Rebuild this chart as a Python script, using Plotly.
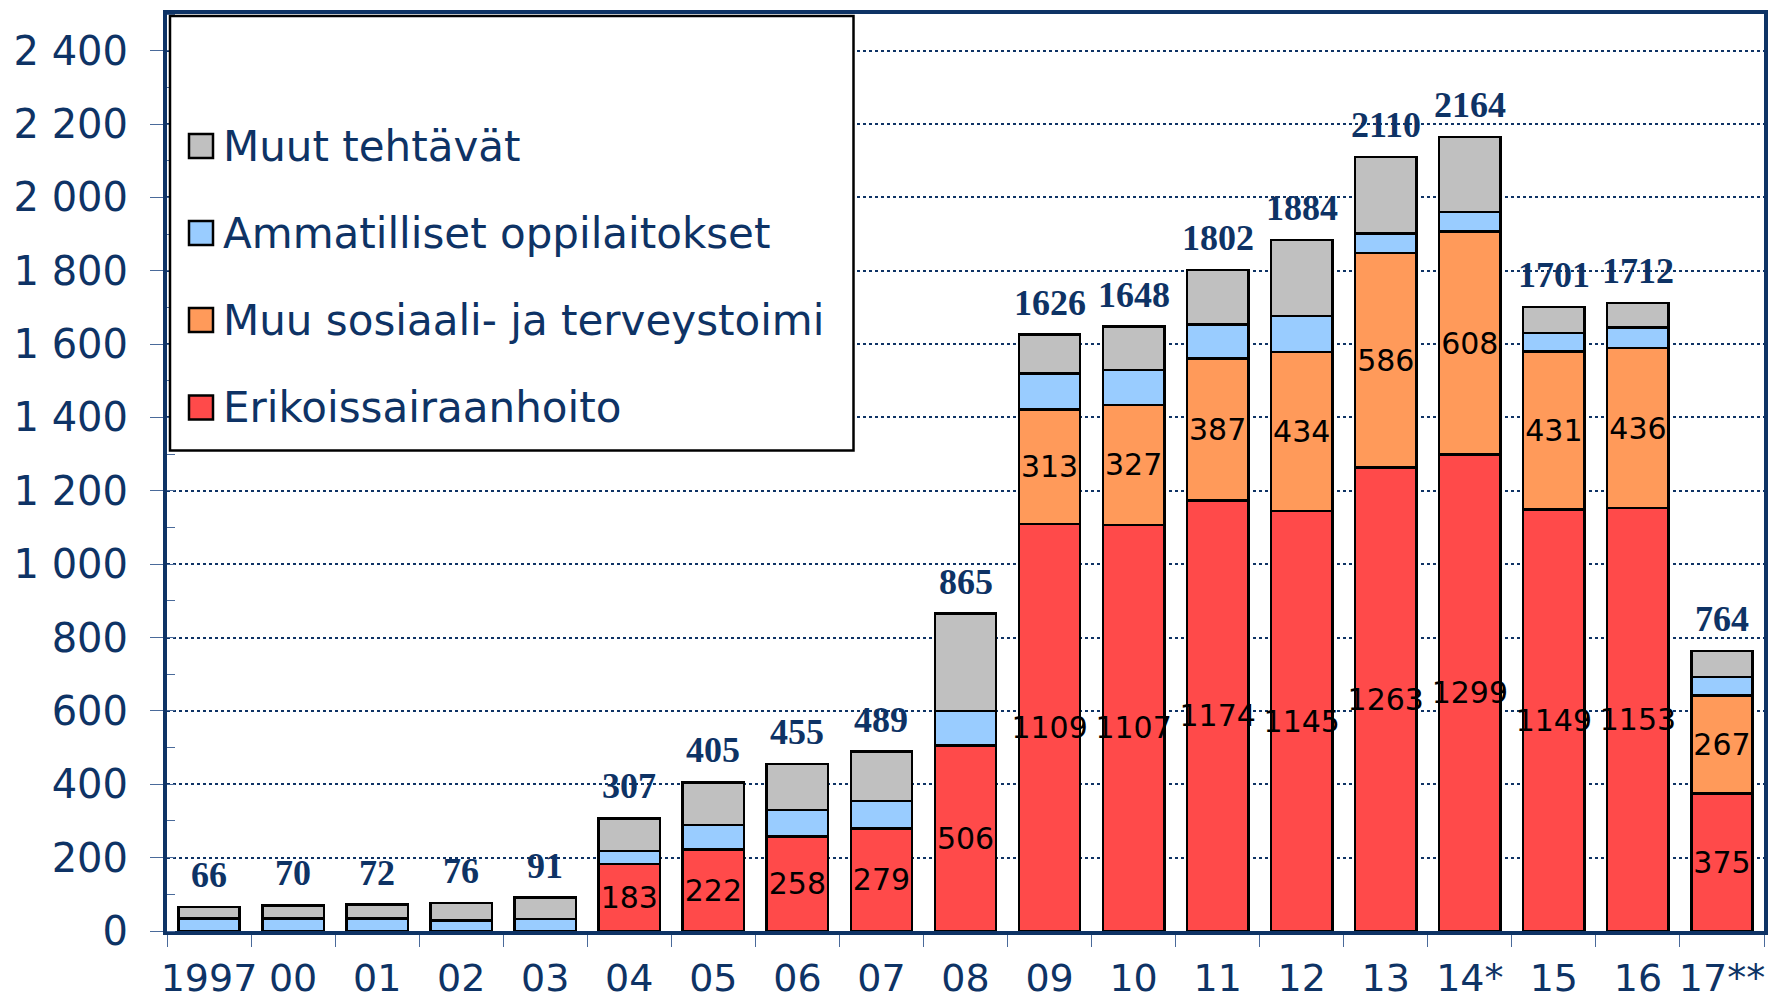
import plotly.graph_objects as go

categories = ["1997", "00", "01", "02", "03", "04", "05", "06", "07", "08",
              "09", "10", "11", "12", "13", "14*", "15", "16", "17**"]
erikoissairaanhoito = [0, 0, 0, 0, 0, 183, 222, 258, 279, 506,
                       1109, 1107, 1174, 1145, 1263, 1299, 1149, 1153, 375]
muu_sosiaali = [0, 0, 0, 0, 0, 0, 0, 0, 0, 0,
                313, 327, 387, 434, 586, 608, 431, 436, 267]
ammatilliset = [34, 34, 34, 28, 33, 35, 67, 72, 76, 94,
                98, 95, 93, 97, 52, 53, 51, 56, 50]
muut = [32, 36, 38, 48, 58, 89, 116, 125, 134, 265,
        106, 119, 148, 208, 209, 204, 70, 67, 72]
totals = [66, 70, 72, 76, 91, 307, 405, 455, 489, 865,
          1626, 1648, 1802, 1884, 2110, 2164, 1701, 1712, 764]
y_tickvals = [0, 200, 400, 600, 800, 1000, 1200, 1400, 1600, 1800, 2000, 2200, 2400]
y_ticktext = ["0", "200", "400", "600", "800", "1 000", "1 200", "1 400",
              "1 600", "1 800", "2 000", "2 200", "2 400"]
series_names = ["Erikoissairaanhoito", "Muu sosiaali- ja terveystoimi",
                "Ammatilliset oppilaitokset", "Muut tehtävät"]
series_colors = ["#FF4A4A", "#FF9A5A", "#99CCFF", "#C0C0C0"]

NAVY = "#0E3365"
W, H = 1775, 1000
ML, MR, MT, MB = 167, 11, 14, 69
PW, PH = W - ML - MR, H - MT - MB

def nz(vals):
    return [v if v else None for v in vals]

def labels(vals):
    return [str(v) if v else "" for v in vals]

fig = go.Figure()
series_vals = [erikoissairaanhoito, muu_sosiaali, ammatilliset, muut]
for i, (name, vals, col) in enumerate(zip(series_names, series_vals, series_colors)):
    show_text = i < 2
    fig.add_trace(go.Bar(
        x=categories, y=nz(vals), name=name,
        marker=dict(color=col, line=dict(color="black", width=2.5)),
        text=labels(vals) if show_text else None,
        textposition="inside" if show_text else "none",
        insidetextanchor="middle",
        textangle=0,
        constraintext="none",
        textfont=dict(family="DejaVu Sans", size=30, color="black"),
        showlegend=False,
        hoverinfo="x+y+name",
    ))

annotations = []
for idx, t in enumerate(totals):
    annotations.append(dict(
        x=idx, y=t, xref="x", yref="y", text="<b>%d</b>" % t, showarrow=False,
        yanchor="bottom", yshift=10,
        font=dict(family="Liberation Serif", size=36, color=NAVY),
    ))

def px_x(p):
    return (p - ML) / PW

def px_y(p):
    return (MT + PH - p) / PH

shapes = [dict(type="rect", xref="paper", yref="paper",
               x0=px_x(170), x1=px_x(853.5), y0=px_y(450.5), y1=px_y(16),
               fillcolor="white", line=dict(color="black", width=2.5),
               layer="above")]
legend_rows = [146, 233, 320, 407.5]
legend_order = [3, 2, 1, 0]
for row_y, idx in zip(legend_rows, legend_order):
    shapes.append(dict(type="rect", xref="paper", yref="paper",
                       x0=px_x(189), x1=px_x(213), y0=px_y(row_y + 12), y1=px_y(row_y - 12),
                       fillcolor=series_colors[idx], line=dict(color="black", width=2.5),
                       layer="above"))
    annotations.append(dict(
        x=px_x(221), y=px_y(row_y), xref="paper", yref="paper",
        text=series_names[idx], showarrow=False, xanchor="left", yanchor="middle",
        font=dict(family="DejaVu Sans", size=42, color=NAVY),
    ))

fig.update_layout(
    width=W, height=H,
    margin=dict(l=ML, r=MR, t=MT, b=MB, autoexpand=False),
    barmode="stack", bargap=0.27,
    plot_bgcolor="white", paper_bgcolor="white",
    font=dict(family="DejaVu Sans", color=NAVY),
    annotations=annotations, shapes=shapes,
    showlegend=False,
)
fig.update_xaxes(
    type="category", range=[-0.5, len(categories) - 0.5],
    showline=True, linecolor=NAVY, linewidth=4, mirror=True,
    ticks="outside", tickson="boundaries", ticklen=12, tickwidth=1, tickcolor="#4A6A9A",
    tickfont=dict(family="DejaVu Sans", size=38, color=NAVY),
    tickangle=0, automargin=False,
    ticklabelstandoff=10,
    showgrid=False,
)
fig.update_yaxes(
    range=[0, 2500], automargin=False,
    tickmode="array", tickvals=y_tickvals, ticktext=y_ticktext,
    showline=True, linecolor=NAVY, linewidth=4, mirror=True,
    ticks="outside", ticklen=13, tickwidth=1, tickcolor="#4A6A9A",
    tickfont=dict(family="DejaVu Sans", size=40, color=NAVY),
    ticklabelstandoff=14,
    showgrid=True, gridcolor=NAVY, gridwidth=1.5, griddash="dot",
    zeroline=False,
    minor=dict(tickmode="linear", tick0=0, dtick=100, ticks="inside", ticklen=8,
               tickwidth=1, tickcolor="#4A6A9A", showgrid=False),
)

fig.write_html("out.html", config={"displayModeBar": False},
               post_script="document.body.style.margin='0px';")
